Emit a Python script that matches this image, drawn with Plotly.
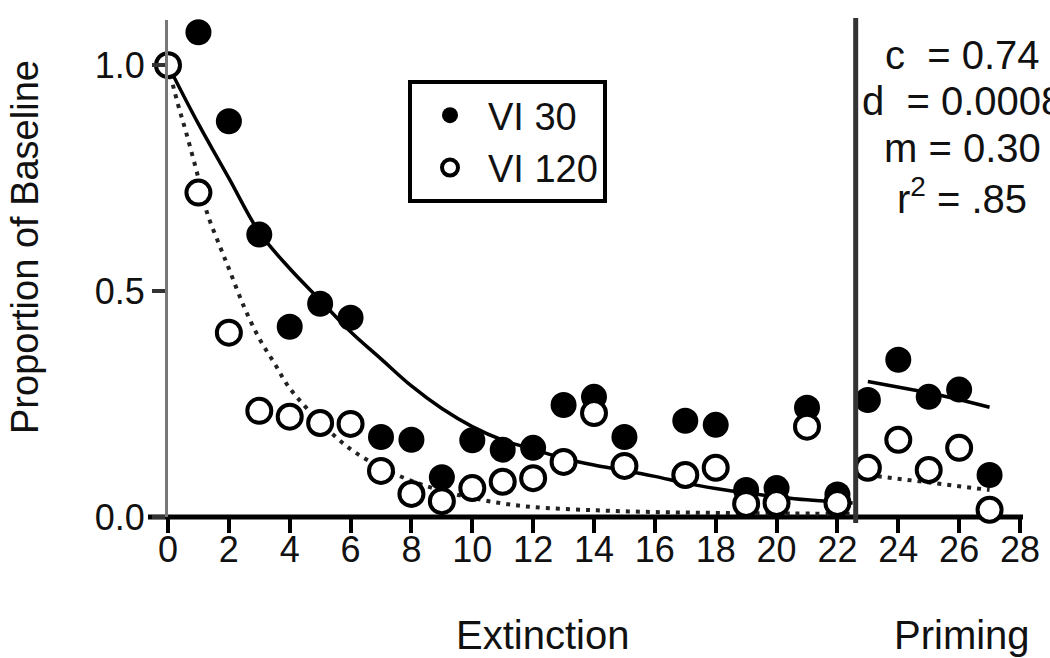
import plotly.graph_objects as go

# ---------------- data ----------------
sessions = list(range(0, 28))
vi30 = [1.0, 1.073, 0.876, 0.625, 0.421, 0.472, 0.441, 0.177, 0.171, 0.088,
        0.170, 0.149, 0.153, 0.248, 0.266, 0.177, None, 0.213, 0.204, 0.060,
        0.064, 0.242, 0.050, 0.259, 0.348, 0.266, 0.282, 0.093]
vi120 = [1.0, 0.718, 0.408, 0.235, 0.222, 0.208, 0.206, 0.102, 0.051, 0.035,
         0.064, 0.078, 0.086, 0.122, 0.230, 0.113, None, 0.093, 0.109, 0.029,
         0.031, 0.200, 0.031, 0.109, 0.171, 0.104, 0.153, 0.016]

# fitted curves
fit30_x = [0, 1, 2, 3, 4, 5, 6, 7, 8, 9, 10, 11, 12, 13, 14, 15, 16, 17, 18,
           19, 20, 21, 22, 22.5]
fit30_y = [1.0, 0.87, 0.75, 0.63, 0.55, 0.48, 0.41, 0.35, 0.29, 0.24, 0.20,
           0.17, 0.15, 0.13, 0.115, 0.103, 0.09, 0.075, 0.063, 0.053, 0.045,
           0.038, 0.033, 0.031]
fit120_x = [0, 0.3, 0.6, 1.0, 1.3, 1.7, 2.0, 2.5, 3, 3.5, 4, 5, 6, 7, 8, 9,
            10, 11, 12, 14, 16, 18, 20, 22.5]
fit120_y = [1.0, 0.92, 0.85, 0.75, 0.67, 0.60, 0.55, 0.465, 0.395, 0.34,
            0.285, 0.21, 0.15, 0.11, 0.08, 0.058, 0.042, 0.03, 0.022, 0.015,
            0.011, 0.009, 0.008, 0.007]
prime30_x = [23, 24, 25, 26, 27]
prime30_y = [0.300, 0.287, 0.275, 0.260, 0.243]
prime120_x = [23, 24, 25, 26, 27]
prime120_y = [0.093, 0.084, 0.076, 0.068, 0.060]

divider_x = 22.6
x_ticks = list(range(0, 29, 2))
y_ticks = [0.0, 0.5, 1.0]
y_ticktext = ["0.0", "0.5", "1.0"]
stats_lines = ["c  = 0.74", "d  = 0.0008", "m = 0.30", "r<sup>2</sup> = .85"]

FONT = "Liberation Sans, Arial, sans-serif"
INK = "#111111"

fig = go.Figure()

line_style = dict(color="black", width=3.5)
dot_style = dict(color="#222222", width=4, dash="4px,6px")

fig.add_trace(go.Scatter(x=fit30_x, y=fit30_y, mode="lines", line=line_style,
                         line_shape="spline", showlegend=False, hoverinfo="skip"))
fig.add_trace(go.Scatter(x=fit120_x, y=fit120_y, mode="lines", line=dot_style,
                         line_shape="spline", showlegend=False, hoverinfo="skip"))
fig.add_trace(go.Scatter(x=prime30_x, y=prime30_y, mode="lines", line=line_style,
                         showlegend=False, hoverinfo="skip"))
fig.add_trace(go.Scatter(x=prime120_x, y=prime120_y, mode="lines", line=dot_style,
                         showlegend=False, hoverinfo="skip"))

fig.add_trace(go.Scatter(x=sessions, y=vi30, mode="markers", name="VI 30",
                         cliponaxis=False,
                         marker=dict(symbol="circle", size=26, color="black",
                                     line=dict(width=0))))
fig.add_trace(go.Scatter(x=sessions, y=vi120, mode="markers", name="VI 120",
                         cliponaxis=False,
                         marker=dict(symbol="circle", size=24, color="white",
                                     line=dict(width=4, color="black"))))
# empty trace to carry the tick-label axis
fig.add_trace(go.Scatter(x=[], y=[], xaxis="x2", yaxis="y", showlegend=False,
                         hoverinfo="skip"))

L, R, T, B = 168, 30, 20, 141
W, H = 1050, 658
pw, ph = W - L - R, H - T - B


def px_x(p):
    return (p - L) / pw


def px_y(p):
    return (H - B - p) / ph


shapes = [
    dict(type="line", xref="paper", yref="paper", x0=px_x(148), x1=px_x(1023),
         y0=0, y1=0, line=dict(color="black", width=5), layer="below"),
    dict(type="line", xref="x", yref="paper", x0=divider_x, x1=divider_x,
         y0=px_y(523), y1=px_y(18), line=dict(color="#333333", width=5),
         layer="above"),
]

annotations = [
    dict(text="Extinction", xref="x", yref="paper", x=12.3, y=px_y(635),
         showarrow=False, font=dict(family=FONT, size=40, color=INK),
         xanchor="center", yanchor="middle"),
    dict(text="Priming", xref="x", yref="paper", x=26.1, y=px_y(635),
         showarrow=False, font=dict(family=FONT, size=40, color=INK),
         xanchor="center", yanchor="middle"),
    dict(text="Proportion of Baseline", xref="paper", yref="paper",
         x=px_x(25), y=px_y(247), textangle=-90, showarrow=False,
         font=dict(family=FONT, size=38, color=INK),
         xanchor="center", yanchor="middle"),
]
for txt, yy in zip(stats_lines, [55, 101, 148, 196]):
    annotations.append(dict(text=txt, xref="paper", yref="paper", x=px_x(962),
                            y=px_y(yy), showarrow=False,
                            font=dict(family=FONT, size=40, color=INK),
                            xanchor="center", yanchor="middle"))

fig.update_layout(
    width=W, height=H, autosize=False,
    margin=dict(l=L, r=R, t=T, b=B, pad=0),
    paper_bgcolor="white", plot_bgcolor="white",
    font=dict(family=FONT, size=36, color=INK),
    shapes=shapes, annotations=annotations,
    legend=dict(x=px_x(408), y=px_y(80), xanchor="left", yanchor="top",
                bordercolor="black", borderwidth=4, bgcolor="white",
                font=dict(family=FONT, size=38, color=INK),
                itemwidth=66, tracegroupgap=0),
    xaxis=dict(range=[0, 28], tickvals=x_ticks, ticks="outside", ticklen=15,
               tickwidth=3.5, tickcolor="black", showline=False,
               showticklabels=False,
               showgrid=False, zeroline=False, automargin=False),
    xaxis2=dict(range=[0, 28], tickvals=x_ticks, ticks="", overlaying="x",
                anchor="y", side="bottom", showline=False, showgrid=False,
                zeroline=False, automargin=False, ticklabelstandoff=8,
                tickfont=dict(family=FONT, size=36, color=INK)),
    yaxis=dict(range=[0, 1.1], tickvals=y_ticks, ticktext=y_ticktext,
               ticks="outside", ticklen=13, tickwidth=4, tickcolor="#333333",
               showline=True, linecolor="#777777", linewidth=3,
               showgrid=False, zeroline=False, automargin=False,
               tickfont=dict(family=FONT, size=36, color=INK)),
)

fig.write_html(
    "out.html",
    config={"displayModeBar": False},
    post_script="document.body.style.margin='0';"
                "document.body.style.overflow='hidden';",
)
